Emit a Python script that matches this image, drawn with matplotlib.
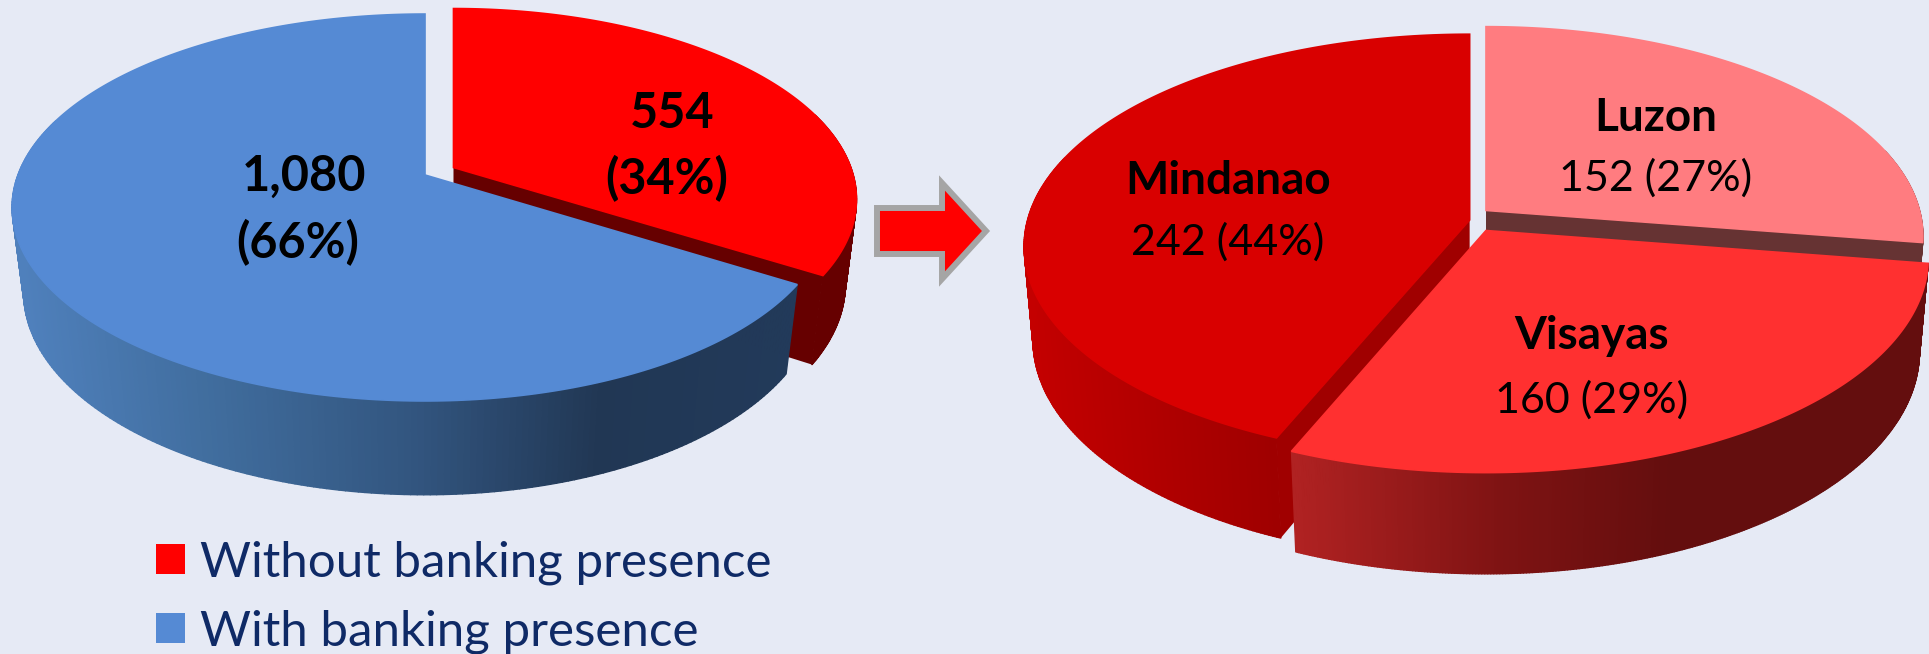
import numpy as np
import matplotlib
matplotlib.use("Agg")
import matplotlib.pyplot as plt
import matplotlib.patches as mpatches
from matplotlib.collections import PolyCollection
from matplotlib.colors import to_rgb

# data
left_names = ["Without banking presence", "With banking presence"]
left_values = [554, 1080]
left_percent = ["34%", "66%"]

right_names = ["Luzon", "Visayas", "Mindanao"]
right_values = [152, 160, 242]
right_percent = ["27%", "29%", "44%"]

BG = "#E6EAF5"
plt.rcParams["font.family"] = ["Lato", "DejaVu Sans"]


class FakePie3D:
    """pie on a tilted disc, seen through a simple perspective (pixel units)"""

    def __init__(self, ax, cx, cy, rx, rx_right, ry, k, h, depth):
        self.ax = ax
        self.cx = cx
        self.cy = cy
        self.rx = rx
        self.rx_right = rx_right  # the reference is a bit narrower right of the centre
        self.ry = ry
        self.k = k  # how much the back of the disc shrinks
        self.h = h  # how much the bottom face shrinks
        self.depth = depth

    def project(self, u, v, off, z=0.0):
        # the sideways explode stays a plain screen shift, so vertical cuts stay vertical
        vv = v + off[1]
        w = 1 + self.k * vv + self.h * z
        r = np.where(np.asarray(u) > 0, self.rx_right, self.rx)
        return self.cx + off[0] * self.rx + r * u / w, self.cy + (self.depth * z - self.ry * vv) / w

    def rim(self, a0, a1, off, z=0.0):
        t = np.linspace(a0, a1, 300)
        return self.project(np.sin(t), np.cos(t), off, z)

    def wall(self, a0, a1, off, stops):
        t = np.linspace(a0, a1, 300)
        xt, yt = self.rim(a0, a1, off)
        xb, yb = self.rim(a0, a1, off, 1.0)
        stop_x = [s[0] for s in stops]
        rgb = np.array([to_rgb(s[1]) for s in stops])
        verts = []
        cols = []
        for i in range(len(xt) - 1):
            if np.cos(t[i]) > 0.3:  # back part is hidden by the top anyway
                continue
            verts.append([(xt[i], yt[i]), (xt[i + 1], yt[i + 1]), (xb[i + 1], yb[i + 1]), (xb[i], yb[i])])
            mid = (xt[i] + xt[i + 1]) / 2
            cols.append([np.interp(mid, stop_x, rgb[:, c]) for c in range(3)])
        self.ax.add_collection(PolyCollection(verts, facecolors=cols, edgecolors=cols, linewidths=1.0))

    def cut_face(self, a, off, color):
        xa, ya = self.project(0.0, 0.0, off)
        xa2, ya2 = self.project(0.0, 0.0, off, 1.0)
        xe, ye = self.project(np.sin(a), np.cos(a), off)
        xe2, ye2 = self.project(np.sin(a), np.cos(a), off, 1.0)
        self.ax.fill([xa, xe, xe2, xa2], [ya, ye, ye2, ya2], color=color, lw=0)

    def top(self, a0, a1, off, color):
        xr, yr = self.rim(a0, a1, off)
        xa, ya = self.project(0.0, 0.0, off)
        # own-colour edge hides the hairline of the wall along the rim
        self.ax.fill(np.r_[xa, xr], np.r_[ya, yr], facecolor=color, edgecolor=color, lw=1.2)


def angles(values):
    edges = np.r_[0, np.cumsum(values)] / np.sum(values) * 2 * np.pi
    return edges[:-1], edges[1:]


fig = plt.figure(figsize=(19.29, 6.54), dpi=100, facecolor=BG)
ax = fig.add_axes([0, 0, 1, 1])
ax.set_xlim(0, 1929)
ax.set_ylim(654, 0)
ax.axis("off")

# left pie
pie = FakePie3D(ax, 425, 175, 407, 400, 188, 0.168, 0.028, 87)
a0, a1 = angles(left_values)
red_off = (0.07, 0.04)
pie.wall(a0[0], a1[0], red_off, [(0, "#660000"), (1929, "#660000")])
pie.cut_face(a1[0], red_off, "#660000")
pie.top(a0[0], a1[0], red_off, "#FF0000")
blue_stops = [(20, "#4F80BC"), (200, "#416E9F"), (415, "#32557F"), (600, "#213754"), (800, "#223A5A")]
pie.wall(a0[1], a1[1], (0, 0), blue_stops)
pie.top(a0[1], a1[1], (0, 0), "#558AD4")

# right pie
pie2 = FakePie3D(ax, 1486, 220, 442, 436, 209, 0.125, 0.02, 95)
a0, a1 = angles(right_values)
luzon_off = (0, 0.046)
visayas_off = (0, -0.05)
mindanao_off = (-0.037, 0)
pie2.wall(a0[0], a1[0], luzon_off, [(0, "#663333"), (1929, "#663333")])
pie2.cut_face(a1[0], luzon_off, "#663333")
pie2.top(a0[0], a1[0], luzon_off, "#FF7C80")
pie2.wall(a0[2], a1[2], mindanao_off, [(1025, "#C40000"), (1280, "#9E0000")])
pie2.cut_face(a0[2], mindanao_off, "#A00000")
pie2.top(a0[2], a1[2], mindanao_off, "#D90000")
visayas_stops = [(1294, "#B02222"), (1500, "#7F1313"), (1670, "#640E0E"), (1929, "#640E0E")]
pie2.wall(a0[1], a1[1], visayas_off, visayas_stops)
pie2.top(a0[1], a1[1], visayas_off, "#FF3030")

# arrow between the pies
ax.add_patch(mpatches.FancyArrow(877, 231, 109, 0, width=46, head_width=96, head_length=44,
                                 length_includes_head=True, facecolor="#FF0000", edgecolor="#A5A5A5",
                                 linewidth=4.3, joinstyle="miter"))

# labels
ax.text(304, 176, f"{left_values[1]:,}", fontsize=35, fontweight="bold", ha="center", va="center")
ax.text(298, 243, f"({left_percent[1]})", fontsize=35, fontweight="bold", ha="center", va="center")
ax.text(672, 113, f"{left_values[0]:,}", fontsize=35, fontweight="bold", ha="center", va="center")
ax.text(667, 179, f"({left_percent[0]})", fontsize=35, fontweight="bold", ha="center", va="center")

right_pos = [(1656, 118, 178), (1592, 336, 400), (1228, 181, 242)]
for i in range(3):
    x, y1, y2 = right_pos[i]
    ax.text(x, y1, right_names[i], fontsize=33, fontweight="bold", ha="center", va="center")
    ax.text(x, y2, f"{right_values[i]} ({right_percent[i]})", fontsize=31, ha="center", va="center")

# legend
legend_cols = ["#FF0000", "#558AD4"]
legend_y = [559, 628]
for i in range(2):
    ax.add_patch(mpatches.Rectangle((156, legend_y[i] - 15), 29, 30, facecolor=legend_cols[i], lw=0))
    ax.text(200, legend_y[i] + 4, left_names[i], fontsize=35.5, color="#0F2A66", ha="left", va="center")

fig.savefig("out.png", dpi=100, facecolor=BG)
